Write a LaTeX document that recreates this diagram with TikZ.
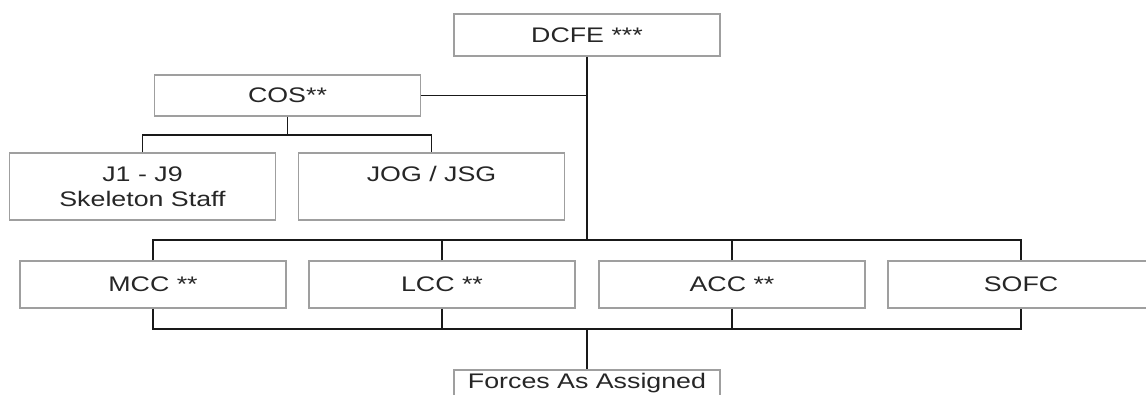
\documentclass[tikz,border=0pt]{standalone}
\usepackage{fontspec}
\setmainfont{Liberation Sans}[FakeStretch=1.27]
\usepackage{tikz}
\usetikzlibrary{positioning, calc}

\begin{document}
\begin{tikzpicture}[
  x=0.02cm, y=-0.02cm,
  unit/.style={draw=gray!75, line width=0.6pt, minimum width=266*0.02cm,
    minimum height=47*0.02cm, inner sep=0pt, align=center, text=black!85,
    font=\fontsize{12}{14.2}\selectfont},
  link/.style={draw=black!90, line width=0.75pt},
]
  \useasboundingbox (0,0) rectangle (1146,395);

  \node (dcfe) [unit, minimum height=42*0.02cm] at (587,35) {DCFE ***};
  \node (cos)  [unit, minimum height=41*0.02cm] at (287.5,95.5) {COS**};
  \node (jone) [unit, minimum height=67*0.02cm] at (142.5,186.5) {J1 - J9\\Skeleton Staff};
  \node (jog)  [unit, minimum height=67*0.02cm] at (431.5,186.5) {JOG / JSG\\\mbox{}};

  \node (mcc)  [unit] at (153,284.5)  {MCC **};
  \node (lcc)  [unit] at (442,284.5)  {LCC **};
  \node (acc)  [unit] at (732,284.5)  {ACC **};
  \node (sofc) [unit] at (1021,284.5) {SOFC};

  \node (forces) [unit, minimum height=26*0.02cm] at (587,383) {Forces As Assigned};

  \coordinate (cosbus) at (287.5,135);
  \coordinate (topbus) at (587,240);
  \coordinate (botbus) at (587,329);

  % command line
  \draw[link] (dcfe.south) -- (topbus);
  \draw[link] (cos.east) -- (cos.east -| dcfe.south);

  % staff under COS
  \draw[link] (cos.south) -- (cosbus);
  \draw[link] (jone.north) |- (cosbus) -| (jog.north);

  % components
  \draw[link] (mcc.north) |- (topbus) -| (sofc.north);
  \draw[link] (lcc.north) -- (lcc.north |- topbus);
  \draw[link] (acc.north) -- (acc.north |- topbus);
  \draw[link] (mcc.south) |- (botbus) -| (sofc.south);
  \draw[link] (lcc.south) -- (lcc.south |- botbus);
  \draw[link] (acc.south) -- (acc.south |- botbus);
  \draw[link] (botbus) -- (forces.north);
\end{tikzpicture}
\end{document}
